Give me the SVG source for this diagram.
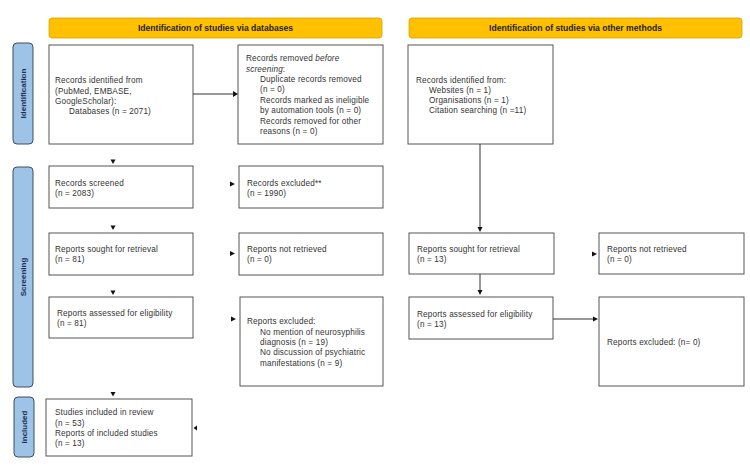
<svg xmlns="http://www.w3.org/2000/svg" width="750" height="476" viewBox="0 0 750 476">
<defs>
<style>
.hdr{fill:#FFC000;stroke:#D9A300;stroke-width:0.8}
.hdrt{font-family:"Liberation Sans",Arial,sans-serif;font-size:8.6px;font-weight:bold;fill:#222;text-anchor:middle}
.bar{fill:#9DC3E6;stroke:#3E4E5E;stroke-width:1}
.bart{font-family:"Liberation Sans",Arial,sans-serif;font-size:8px;font-weight:bold;fill:#1F2F4F;text-anchor:middle}
.box{fill:#fff;stroke:#555;stroke-width:1}
.t{font-family:"Liberation Sans",Arial,sans-serif;font-size:8.2px;letter-spacing:0.15px;fill:#333}
.ln{stroke:#333;stroke-width:1;fill:none}
.ah{fill:#111}
</style>
</defs>
<rect width="750" height="476" fill="#fff"/>

<g id="header-databases"><rect class="hdr" x="49" y="18" width="333" height="20" rx="3"/><text class="hdrt" x="215.5" y="31">Identification of studies via databases</text></g>
<g id="header-other"><rect class="hdr" x="409" y="18" width="333" height="20" rx="3"/><text class="hdrt" x="575.5" y="31">Identification of studies via other methods</text></g>

<g id="bar-identification"><rect class="bar" x="13" y="43" width="20" height="101" rx="4"/><text class="bart" transform="translate(26,93.5) rotate(-90)">Identification</text></g>
<g id="bar-screening"><rect class="bar" x="13" y="167" width="20" height="220" rx="4"/><text class="bart" transform="translate(26,277) rotate(-90)">Screening</text></g>
<g id="bar-included"><rect class="bar" x="14" y="397" width="20" height="60" rx="4"/><text class="bart" transform="translate(27,427) rotate(-90)">Included</text></g>

<g id="records-identified"><rect class="box" x="49" y="45" width="144" height="99"/>
<text class="t" x="55" y="83">Records identified from</text>
<text class="t" x="55" y="93.5">(PubMed, EMBASE,</text>
<text class="t" x="55" y="104">GoogleScholar):</text>
<text class="t" x="69" y="114">Databases (n = 2071)</text></g>

<g id="records-removed"><rect class="box" x="238" y="45" width="145" height="99"/>
<text class="t" x="246" y="61">Records removed <tspan font-style="italic">before</tspan></text>
<text class="t" x="246" y="72"><tspan font-style="italic">screening</tspan>:</text>
<text class="t" x="260" y="82">Duplicate records removed</text>
<text class="t" x="260" y="92">(n = 0)</text>
<text class="t" x="260" y="103">Records marked as ineligible</text>
<text class="t" x="260" y="113">by automation tools (n = 0)</text>
<text class="t" x="260" y="124">Records removed for other</text>
<text class="t" x="260" y="134">reasons (n = 0)</text></g>

<g id="records-other"><rect class="box" x="408" y="45" width="145" height="99"/>
<text class="t" x="416" y="83">Records identified from:</text>
<text class="t" x="429" y="93">Websites (n = 1)</text>
<text class="t" x="429" y="103">Organisations (n = 1)</text>
<text class="t" x="429" y="113">Citation searching (n =11)</text></g>

<g id="records-screened"><rect class="box" x="49" y="166" width="144" height="42"/>
<text class="t" x="55" y="186">Records screened</text>
<text class="t" x="55" y="196">(n = 2083)</text></g>

<g id="records-excluded"><rect class="box" x="239" y="166" width="144" height="42"/>
<text class="t" x="247" y="186">Records excluded**</text>
<text class="t" x="247" y="196">(n = 1990)</text></g>

<g id="reports-sought"><rect class="box" x="49" y="233" width="144" height="42"/>
<text class="t" x="55" y="252">Reports sought for retrieval</text>
<text class="t" x="55" y="262">(n = 81)</text></g>

<g id="reports-not-retrieved"><rect class="box" x="239" y="233" width="144" height="42"/>
<text class="t" x="247" y="252">Reports not retrieved</text>
<text class="t" x="247" y="262">(n = 0)</text></g>

<g id="reports-assessed"><rect class="box" x="49" y="297" width="144" height="41"/>
<text class="t" x="57" y="316">Reports assessed for eligibility</text>
<text class="t" x="57" y="326">(n = 81)</text></g>

<g id="reports-excluded"><rect class="box" x="240" y="297" width="143" height="89"/>
<text class="t" x="247" y="324">Reports excluded:</text>
<text class="t" x="260" y="335">No mention of neurosyphilis</text>
<text class="t" x="260" y="345">diagnosis (n = 19)</text>
<text class="t" x="260" y="355">No discussion of psychiatric</text>
<text class="t" x="260" y="366">manifestations (n = 9)</text></g>

<g id="studies-included"><rect class="box" x="46" y="399" width="146" height="57"/>
<text class="t" x="55" y="415">Studies included in review</text>
<text class="t" x="55" y="426">(n = 53)</text>
<text class="t" x="55" y="436">Reports of included studies</text>
<text class="t" x="55" y="446">(n = 13)</text></g>

<g id="reports-sought-other"><rect class="box" x="409" y="233" width="145" height="41"/>
<text class="t" x="417" y="252">Reports sought for retrieval</text>
<text class="t" x="417" y="262">(n = 13)</text></g>

<g id="reports-not-retrieved-other"><rect class="box" x="599" y="233" width="145" height="41"/>
<text class="t" x="607" y="252">Reports not retrieved</text>
<text class="t" x="607" y="262">(n = 0)</text></g>

<g id="reports-assessed-other"><rect class="box" x="409" y="297" width="144" height="42"/>
<text class="t" x="417" y="317">Reports assessed for eligibility</text>
<text class="t" x="417" y="327">(n = 13)</text></g>

<g id="reports-excluded-other"><rect class="box" x="599" y="297" width="145" height="89"/>
<text class="t" x="607" y="345">Reports excluded:  (n= 0)</text></g>

<g id="connectors">
<line class="ln" x1="193" y1="94" x2="233" y2="94"/>
<polygon class="ah" points="233,91 238,94 233,97"/>
<polygon class="ah" points="110.5,159.5 115.5,159.5 113,164"/>
<polygon class="ah" points="230,181.5 235,184 230,186.5"/>
<polygon class="ah" points="110.5,225.5 115.5,225.5 113,230"/>
<polygon class="ah" points="230,251 235,253.5 230,256"/>
<polygon class="ah" points="110.5,290.5 115.5,290.5 113,295"/>
<polygon class="ah" points="231,316.5 236,319 231,321.5"/>
<polygon class="ah" points="110.5,392 115.5,392 113,396.5"/>
<polygon class="ah" points="197,425.5 193.5,428 197,430.5"/>
<line class="ln" x1="480" y1="144" x2="480" y2="228"/>
<polygon class="ah" points="477.5,227 482.5,227 480,232"/>
<line class="ln" x1="480" y1="274" x2="480" y2="291"/>
<polygon class="ah" points="477.5,290 482.5,290 480,295"/>
<polygon class="ah" points="592,251.5 597,254 592,256.5"/>
<line class="ln" x1="553" y1="319" x2="594" y2="319"/>
<polygon class="ah" points="593,316.5 598,319 593,321.5"/>
</g>
</svg>
